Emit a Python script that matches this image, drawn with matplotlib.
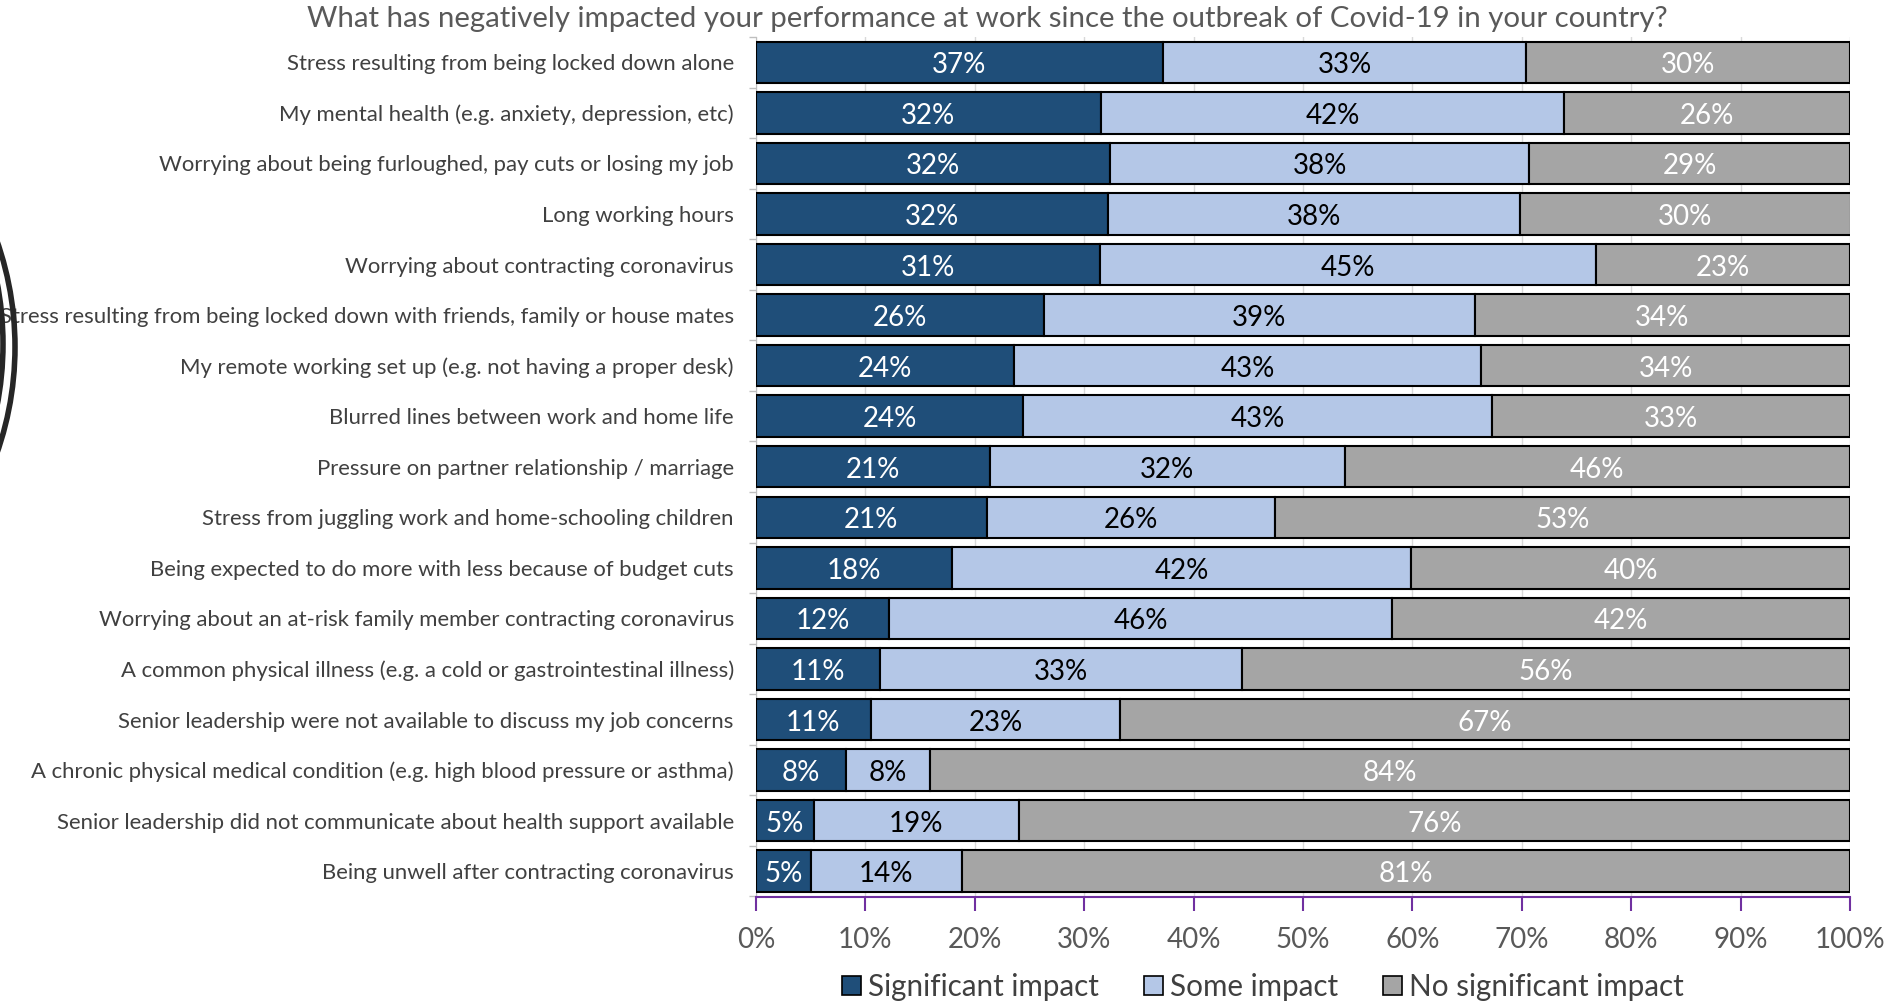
import matplotlib
matplotlib.use("Agg")
import matplotlib.pyplot as plt
import matplotlib.patches as mpatches
from matplotlib.transforms import IdentityTransform
import numpy as np

plt.rcParams["font.family"] = ["Lato", "DejaVu Sans"]

TITLE = ("What has negatively impacted your performance at work since the "
         "outbreak of Covid-19 in your country?")

categories = [
    "Stress resulting from being locked down alone",
    "My mental health (e.g. anxiety, depression, etc)",
    "Worrying about being furloughed, pay cuts or losing my job",
    "Long working hours",
    "Worrying about contracting coronavirus",
    "Stress resulting from being locked down with friends, family or house mates",
    "My remote working set up (e.g. not having a proper desk)",
    "Blurred lines between work and home life",
    "Pressure on partner relationship / marriage",
    "Stress from juggling work and home-schooling children",
    "Being expected to do more with less because of budget cuts",
    "Worrying about an at-risk family member contracting coronavirus",
    "A common physical illness (e.g. a cold or gastrointestinal illness)",
    "Senior leadership were not available to discuss my job concerns",
    "A chronic physical medical condition (e.g. high blood pressure or asthma)",
    "Senior leadership did not communicate about health support available",
    "Being unwell after contracting coronavirus",
]

# bar lengths (share of respondents, %)
significant = [37.2, 31.5, 32.4, 32.2, 31.4, 26.3, 23.6, 24.4, 21.4, 21.1,
               17.9, 12.2, 11.3, 10.5, 8.2, 5.3, 5.0]
some = [33.2, 42.4, 38.3, 37.6, 45.4, 39.4, 42.7, 42.9, 32.4, 26.3,
        42.0, 45.9, 33.1, 22.8, 7.7, 18.7, 13.8]
none = [29.6, 26.1, 29.3, 30.3, 23.2, 34.3, 33.7, 32.7, 46.2, 52.6,
        40.1, 41.9, 55.6, 66.7, 84.1, 76.0, 81.2]

# labels as printed on the bars
significant_lbl = [37, 32, 32, 32, 31, 26, 24, 24, 21, 21, 18, 12, 11, 11, 8, 5, 5]
some_lbl = [33, 42, 38, 38, 45, 39, 43, 43, 32, 26, 42, 46, 33, 23, 8, 19, 14]
none_lbl = [30, 26, 29, 30, 23, 34, 34, 33, 46, 53, 40, 42, 56, 67, 84, 76, 81]

series_names = ["Significant impact", "Some impact", "No significant impact"]
colors = ["#1F4E79", "#B4C7E7", "#A5A5A5"]
text_colors = ["white", "black", "white"]

W, H = 1896, 1002
fig = plt.figure(figsize=(W / 100, H / 100), dpi=100)
ax = fig.add_axes([756 / W, 1 - 896.5 / H, (1850 - 756) / W, (896.5 - 37) / H])

y = np.arange(len(categories))
left = np.zeros(len(categories))
for vals, lbls, name, c, tc in zip([significant, some, none],
                                   [significant_lbl, some_lbl, none_lbl],
                                   series_names, colors, text_colors):
    vals = np.array(vals)
    ax.barh(y, vals, left=left, height=0.82, color=c, edgecolor="black",
            linewidth=1.5, label=name, zorder=3)
    for yi, l, v, lb in zip(y, left, vals, lbls):
        ax.text(l + v / 2, yi + 0.06, f"{lb}%", ha="center", va="center",
                color=tc, fontsize=20, zorder=4)
    left = left + vals

ax.set_xlim(0, 100)
ax.set_ylim(len(categories) - 0.5, -0.5)
ax.set_xticks(np.arange(0, 101, 10))
ax.set_xticklabels([f"{v}%" for v in range(0, 101, 10)])
ax.xaxis.grid(True, color="#D9D9D9", linewidth=1, zorder=0)
ax.set_axisbelow(True)

ax.set_yticks(y)
ax.set_yticklabels(categories)
ax.set_yticks(np.arange(-0.5, len(categories), 1), minor=True)
ax.tick_params(axis="y", which="major", length=0, pad=16, labelsize=15.95,
               labelcolor="#404040")
ax.tick_params(axis="y", which="minor", length=5, color="#BFBFBF", width=1)
ax.tick_params(axis="x", which="major", direction="out", length=10,
               color="#7030A0", width=1.5, pad=12, labelsize=20,
               labelcolor="#595959")

for s in ("top", "right"):
    ax.spines[s].set_visible(False)
ax.spines["left"].set_color("#BFBFBF")
ax.spines["bottom"].set_color("#7030A0")
ax.spines["bottom"].set_linewidth(1.5)

fig.text(987 / W, 1 - 19 / H, TITLE, ha="center", va="center",
         fontsize=21.2, color="#595959")

handles = [mpatches.Patch(facecolor=c, edgecolor="black", linewidth=1.2, label=n)
           for c, n in zip(colors, series_names)]
fig.legend(handles=handles, loc="center", bbox_to_anchor=(1263 / W, 1 - 987 / H),
           ncol=3, frameon=False, fontsize=21.3, handlelength=0.65,
           handleheight=0.65, handletextpad=0.25, columnspacing=1.5,
           labelcolor="#404040")

# stray circle edge at the left border of the original image
for cx, cy, r in [(-306, 347, 321), (-321, 344, 324)]:
    fig.add_artist(mpatches.Circle((cx, H - cy), r, fill=False,
                                   edgecolor="#262626", linewidth=4,
                                   transform=IdentityTransform()))

fig.savefig("out.png", dpi=100)
